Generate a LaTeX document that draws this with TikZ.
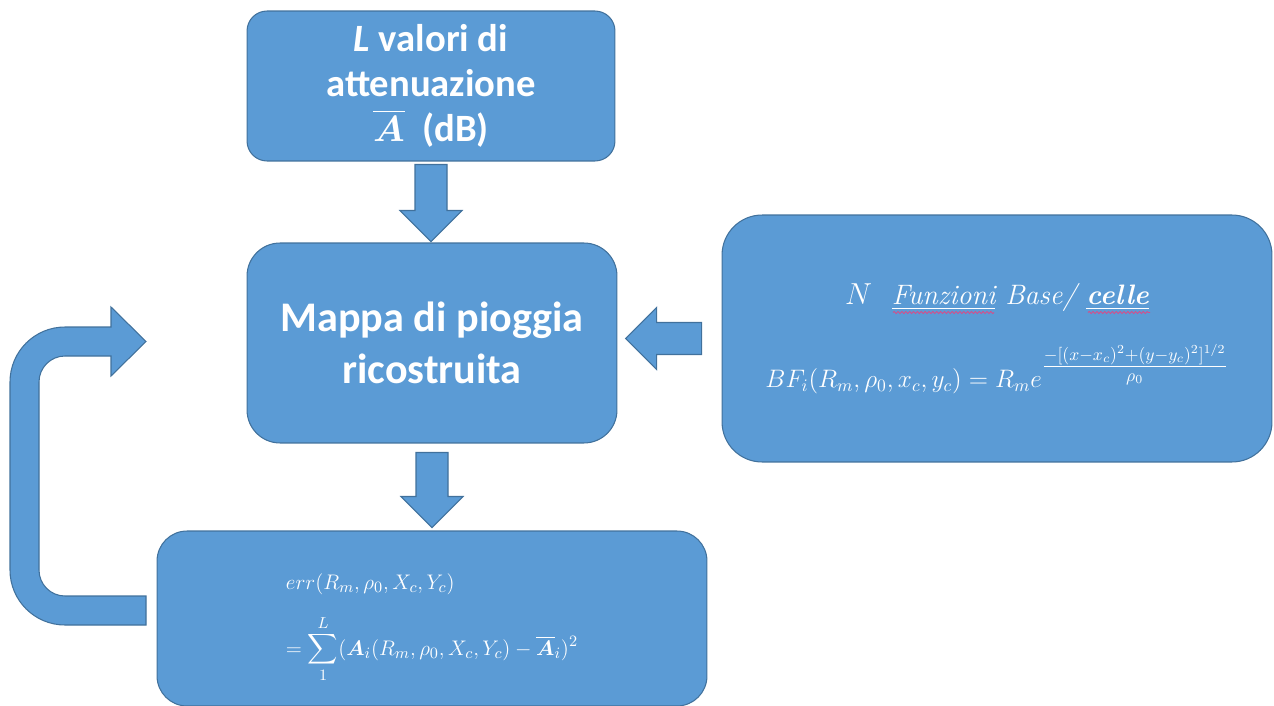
\documentclass[tikz,border=0pt]{standalone}
\usepackage{amsmath}
\usepackage{fontspec}
\usetikzlibrary{calc}
\usetikzlibrary{decorations.pathmorphing}
\newfontfamily\calibri{Carlito}
\definecolor{blocco}{HTML}{5B9BD5}
\definecolor{bordo}{HTML}{41719C}
\definecolor{ondina}{HTML}{D2508C}
\tikzset{
	blocco/.style = {draw = bordo, line width = 0.6pt, fill = blocco, text = white, inner sep = 0pt},
	freccia/.style = {draw = bordo, line width = 0.6pt, fill = blocco},
	onda/.style = {draw = ondina, line width = 0.5pt, decorate,
		decoration = {snake, amplitude = 0.6pt, segment length = 2.2pt}}
}

\begin{document}
\begin{tikzpicture}[x = 0.02cm, y = -0.02cm]
\useasboundingbox (0,0) rectangle (1274,706);

\node[blocco, align = center, minimum width = 7.36cm, minimum height = 3cm, rounded corners = 0.4cm,
	font = \calibri\bfseries\fontsize{22}{25.5}\selectfont] (attn) at (431,86)
	{\textit{L} valori di\\attenuazione\\{\boldmath$\overline{A}$}\ \ (dB)};

\node[blocco, align = center, minimum width = 7.4cm, minimum height = 4cm, rounded corners = 0.66cm,
	font = \calibri\bfseries\fontsize{24}{30}\selectfont] (mappa) at (432,343)
	{Mappa di pioggia\\ricostruita};

\node[blocco, align = center, minimum width = 11cm, minimum height = 4.94cm, rounded corners = 0.8cm,
	font = \fontsize{14}{17}\selectfont] (bf) at (997,338.5)
	{{\itshape\fontsize{16}{19}\selectfont $N$\ \ \underline{Funzioni} Base/ \underline{\bfseries celle}}\\[18pt]
	$BF_i(R_m,\rho_0,x_c,y_c)=R_m e^{\tfrac{-[(x-x_c)^2+(y-y_c)^2]^{1/2}}{\rho_0}}$};

% onde del correttore
\draw[onda] ($(bf.center)+(-104,-26)$) -- ++(101,0);
\draw[onda] ($(bf.center)+(91,-26)$) -- ++(62,0);

\node[blocco, align = left, minimum width = 11cm, minimum height = 3.5cm, rounded corners = 0.6cm,
	font = \fontsize{12.6}{15}\selectfont] (err) at (432,618.5)
	{\rule{0pt}{20pt}$err(R_m,\rho_0,X_c,Y_c)$\\[10.8pt]
	$\displaystyle =\sum_{1}^{L}(\boldsymbol{A}_i(R_m,\rho_0,X_c,Y_c)-\overline{\boldsymbol{A}}_i)^2$};

% frecce a blocco
\foreach \s/\dx/\dy/\a/\l in {attn.south/0/3/-90/77, mappa.south/0/9/-90/75, bf.west/-20/0/180/76}
	\draw[freccia, shift = {($(\s)+(\dx,\dy)$)}, rotate = \a]
		(0,-16) -- (\l-31,-16) -- (\l-31,-31) -- (\l,0) -- (\l-31,31) -- (\l-31,16) -- (0,16) -- cycle;

% ritorno
\draw[freccia] (146,625) -- (65,625) arc (90:180:55) -- (10,382) arc (180:270:55)
	-- (111,327) -- (111,307) -- (146,341.5) -- (111,376) -- (111,356)
	-- (65,356) arc (270:180:26) -- (39,570) arc (180:90:26) -- (146,596) -- cycle;

\end{tikzpicture}
\end{document}
